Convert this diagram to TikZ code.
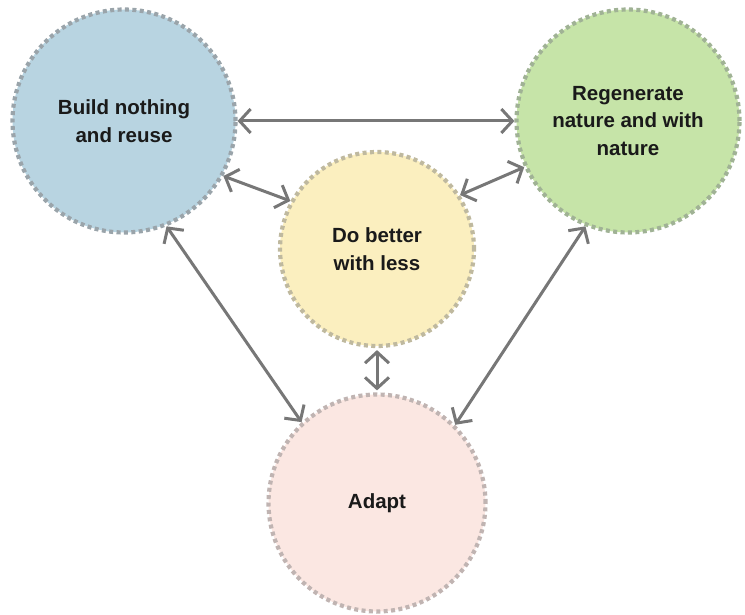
\documentclass[tikz,border=0pt]{standalone}
\usepackage{fontspec}
\setmainfont{Liberation Sans}
\usetikzlibrary{arrows.meta}
\definecolor{bfill}{HTML}{B8D4E1}
\definecolor{gfill}{HTML}{C6E4A8}
\definecolor{yfill}{HTML}{FBEFBF}
\definecolor{pfill}{HTML}{FBE7E2}
\definecolor{bline}{HTML}{9AA4AA}
\definecolor{gline}{HTML}{A0B295}
\definecolor{yline}{HTML}{BFB99F}
\definecolor{pline}{HTML}{C0B4B2}
\definecolor{arr}{HTML}{777777}
\definecolor{txt}{HTML}{1A1A1A}
\tikzset{
  bubble/.style={circle, draw, line width=4.2pt, dash pattern=on 4pt off 3.4pt,
    align=center, text=txt, font=\fontsize{20.5}{27.5}\selectfont\bfseries, inner sep=0pt},
  link/.style={draw=arr, line width=3pt, {Straight Barb[length=11pt,width=24pt]}-{Straight Barb[length=11pt,width=24pt]}}
}
\begin{document}
\begin{tikzpicture}[x=1pt,y=-1pt]
\useasboundingbox (0,0) rectangle (745,615);
\node[bubble, fill=bfill, draw=bline, minimum size=223pt] (B) at (124,121) {Build nothing\\and reuse};
\node[bubble, fill=gfill, draw=gline, minimum size=223pt] (G) at (628,121) {Regenerate\\nature and with\\nature};
\node[bubble, fill=yfill, draw=yline, minimum size=194pt] (Y) at (377,249) {Do better\\with less};
\node[bubble, fill=pfill, draw=pline, minimum size=217pt] (P) at (377,503) {Adapt};
\draw[link] (B.0) -- (G.180);
\draw[link] (B.-29) -- (Y.151);
\draw[link] (Y.33) -- (G.204);
\draw[link] (B.-68) -- (P.133);
\draw[link] (G.-112) -- (P.45);
\draw[link, shorten <=2pt, shorten >=2pt] (Y.south) -- (P.north);
\end{tikzpicture}
\end{document}
